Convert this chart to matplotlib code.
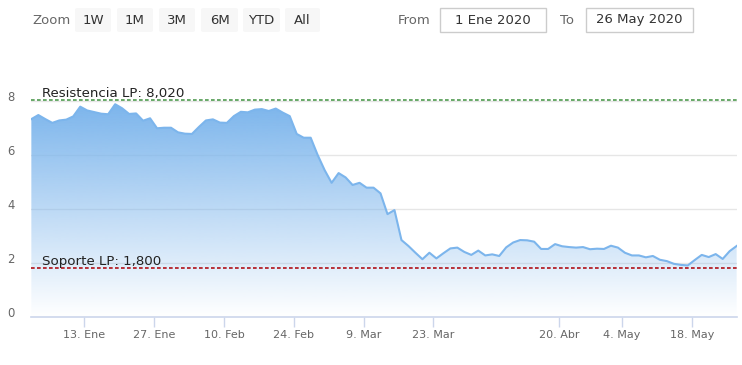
import numpy as np
import pandas as pd
import matplotlib
matplotlib.use("Agg")
import matplotlib.pyplot as plt
from matplotlib.patches import Rectangle, FancyBboxPatch
from matplotlib.transforms import ScaledTranslation
from matplotlib.colors import to_rgb

# ---------------- data ----------------
start_date = "2020-01-01"
end_date = "2020-05-26"
holidays = ["2020-04-09", "2020-04-10", "2020-05-01"]

values = [7.33, 7.48, 7.33, 7.19, 7.28, 7.31, 7.43, 7.79, 7.65, 7.59,
          7.53, 7.51, 7.88, 7.73, 7.52, 7.54, 7.27, 7.36, 6.99, 7.01,
          7.01, 6.84, 6.79, 6.78, 7.04, 7.28, 7.32, 7.20, 7.19, 7.44,
          7.60, 7.58, 7.68, 7.70, 7.63, 7.72, 7.57, 7.44, 6.78, 6.64,
          6.64, 6.00, 5.44, 4.97, 5.33, 5.17, 4.89, 4.97, 4.79, 4.79,
          4.58, 3.81, 3.96, 2.85, 2.63, 2.38, 2.14, 2.38, 2.17, 2.36,
          2.54, 2.57, 2.41, 2.30, 2.46, 2.28, 2.32, 2.26, 2.58, 2.76,
          2.85, 2.84, 2.79, 2.52, 2.52, 2.70, 2.62, 2.59, 2.57, 2.59,
          2.51, 2.53, 2.52, 2.64, 2.57, 2.38, 2.28, 2.28, 2.21, 2.26,
          2.12, 2.07, 1.97, 1.93, 1.91, 2.11, 2.30, 2.22, 2.33, 2.15,
          2.44, 2.63]

tick_dates = ["2020-01-13", "2020-01-27", "2020-02-10", "2020-02-24",
              "2020-03-09", "2020-03-23", "2020-04-20", "2020-05-04",
              "2020-05-18"]
tick_labels = ["13. Ene", "27. Ene", "10. Feb", "24. Feb", "9. Mar",
               "23. Mar", "20. Abr", "4. May", "18. May"]

resistance = 8.02
resistance_label = "Resistencia LP: 8,020"
support = 1.80
support_label = "Soporte LP: 1,800"

y_ticks = [0, 2, 4, 6, 8]

zoom_buttons = ["1W", "1M", "3M", "6M", "YTD", "All"]
from_text = "1 Ene 2020"
to_text = "26 May 2020"

# ---------------- figure ----------------
W, H = 742, 365
fig = plt.figure(figsize=(W / 100, H / 100), dpi=100)
plt.rcParams["font.family"] = ["DejaVu Sans"]


def fx(x):
    return x / W


def fy(y):
    return 1 - y / H


left_px, right_px = 31, 737
bottom_px = 317
ymax = 9.5
px_per_unit = 27.0
top_px = bottom_px - ymax * px_per_unit
ax = fig.add_axes([fx(left_px), fy(bottom_px), (right_px - left_px) / W,
                   (bottom_px - top_px) / H])

dates = pd.bdate_range(start_date, end_date, freq="C", holidays=holidays)
x = np.arange(len(values))
vals = np.array(values)
tick_shift = -0.43
tick_pos = [dates.get_loc(pd.Timestamp(d)) + tick_shift for d in tick_dates]

line_color = "#7cb5ec"
ax.set_xlim(-0.05, len(values) - 1 + 0.05)
ax.set_ylim(0, ymax)

# gridlines
for v in y_ticks[1:]:
    ax.axhline(v, color="#e6e6e6", lw=1.0, zorder=0.5)

# gradient area
poly = ax.fill_between(x, vals, 0, color="none", lw=0)
rgb = np.array(to_rgb(line_color))
n = 256
img = np.zeros((n, 1, 4))
img[:, 0, :3] = rgb
img[:, 0, 3] = np.linspace(0.0, 1.0, n)
im = ax.imshow(img, extent=[x[0], x[-1], 0, vals.max()], origin="lower",
               aspect="auto", zorder=1, interpolation="bilinear")
im.set_clip_path(poly.get_paths()[0], transform=ax.transData)
ax.plot(x, vals, color=line_color, lw=1.5, zorder=3, solid_joinstyle="round")

# reference lines
ax.axhline(resistance, color="#4f9a4f", lw=1.2, ls=(0, (2.2, 1.4)), zorder=4)
ax.axhline(support, color="#b01018", lw=1.2, ls=(0, (2.2, 1.4)), zorder=4)
ax.text(0.015, resistance, resistance_label, transform=ax.get_yaxis_transform(),
        fontsize=9.6, color="#222222", va="bottom", ha="left", zorder=5)
ax.text(0.015, support, support_label, transform=ax.get_yaxis_transform(),
        fontsize=9.6, color="#222222", va="bottom", ha="left", zorder=5)

# axes styling
for s in ["top", "right", "left"]:
    ax.spines[s].set_visible(False)
ax.spines["bottom"].set_color("#ccd6eb")
ax.spines["bottom"].set_linewidth(1.2)
ax.set_yticks(y_ticks)
ax.set_yticklabels([str(v) for v in y_ticks])
ax.tick_params(axis="y", length=0, pad=12, labelsize=8.4, labelcolor="#666666")
for lab in ax.get_yticklabels():
    lab.set_transform(lab.get_transform() + ScaledTranslation(0, 0.05, fig.dpi_scale_trans))
ax.set_xticks(tick_pos)
ax.set_xticklabels(tick_labels)
ax.tick_params(axis="x", length=7, width=1, color="#ccd6eb", pad=2,
               labelsize=8.0, labelcolor="#666666")
ax.patch.set_alpha(0)

# ---------------- range selector ----------------
fig.text(fx(32), fy(20), "Zoom", fontsize=9.5, color="#666666", va="center", ha="left")
btn_x = [75, 117, 159, 201, 243, 285]
btn_w = [36, 36, 36, 37, 37, 35]
for bx, bw, lbl in zip(btn_x, btn_w, zoom_buttons):
    fig.add_artist(FancyBboxPatch((fx(bx), fy(32)), bw / W, 24 / H,
                                  boxstyle="round,pad=0,rounding_size=0.004",
                                  transform=fig.transFigure, facecolor="#f7f7f7",
                                  edgecolor="none"))
    fig.text(fx(bx + bw / 2), fy(20), lbl, fontsize=9.5, color="#333333",
             va="center", ha="center")

fig.text(fx(398), fy(20), "From", fontsize=9.5, color="#666666", va="center", ha="left")
fig.add_artist(Rectangle((fx(440), fy(32)), 106 / W, 24 / H, transform=fig.transFigure,
                         facecolor="white", edgecolor="#cccccc", lw=1))
fig.text(fx(493), fy(20), from_text, fontsize=9.5, color="#333333", va="center", ha="center")
fig.text(fx(560), fy(20), "To", fontsize=9.5, color="#666666", va="center", ha="left")
fig.add_artist(Rectangle((fx(586), fy(32)), 107 / W, 24 / H, transform=fig.transFigure,
                         facecolor="white", edgecolor="#cccccc", lw=1))
fig.text(fx(639.5), fy(20), to_text, fontsize=9.5, color="#333333", va="center", ha="center")

fig.savefig("out.png", dpi=100)
